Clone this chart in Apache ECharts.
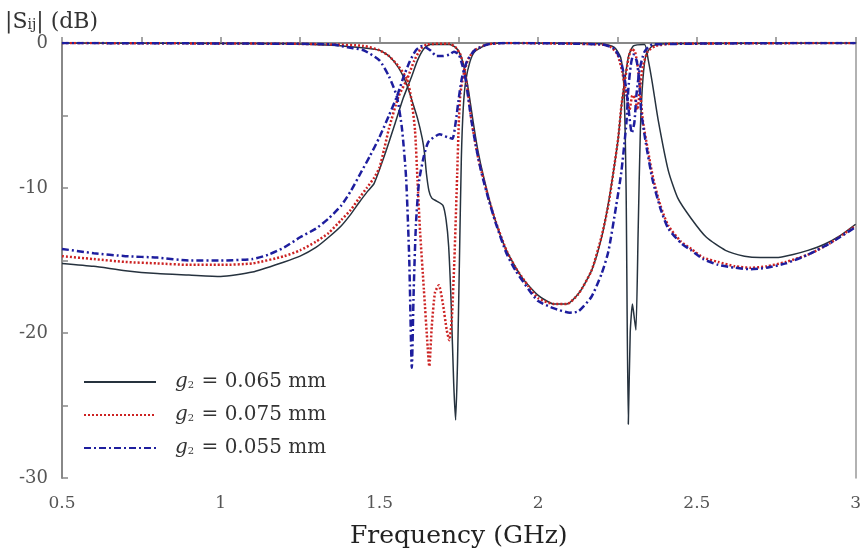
<!DOCTYPE html>
<html>
<head>
<meta charset="utf-8">
<script src="https://cdn.jsdelivr.net/npm/echarts@6/dist/echarts.min.js"></script>
<style>
  html, body { margin: 0; padding: 0; background: #fff; }
  #chart { width: 864px; height: 554px; }
</style>
</head>
<body>
<div id="chart"></div>
<script>
// legend labels (gap width g2)
var gapLabels = ['0.065', '0.075', '0.055'];
var lineColors = ['#26323e', '#cc2222', '#1e1e9e'];

// g2 = 0.065 mm  [GHz, dB]
var blackS21 = [
  [0.5,-15.2],[0.6,-15.4],[0.7,-15.7],[0.8,-15.9],[0.9,-16.0],[1.0,-16.1],[1.1,-15.8],
  [1.2,-15.1],[1.25,-14.7],[1.3,-14.1],[1.34,-13.4],[1.38,-12.6],[1.41,-11.8],[1.436,-11.0],
  [1.46,-10.3],[1.483,-9.7],[1.52,-7.5],[1.55,-5.5],[1.575,-3.8],[1.6,-2.4],[1.62,-1.2],
  [1.64,-0.4],[1.66,-0.1],[1.72,-0.1],[1.74,-0.3],[1.755,-0.8],[1.768,-1.8],[1.78,-3.2],
  [1.795,-5.4],[1.81,-7.4],[1.83,-9.4],[1.86,-11.9],[1.9,-14.3],[1.95,-16.2],[2.0,-17.4],
  [2.05,-18.0],[2.09,-18.0],[2.13,-17.2],[2.17,-15.6],[2.2,-13.4],[2.22,-11.2],[2.237,-8.9],
  [2.252,-6.6],[2.262,-4.4],[2.274,-2.4],[2.285,-0.9],[2.3,-0.2],[2.335,-0.1],[2.347,-1.2],
  [2.36,-2.8],[2.378,-5.3],[2.41,-8.8],[2.44,-10.7],[2.482,-12.1],[2.53,-13.4],[2.59,-14.3],
  [2.65,-14.7],[2.7,-14.8],[2.75,-14.8],[2.8,-14.6],[2.85,-14.3],[2.9,-13.9],[2.95,-13.3],[3.0,-12.5]
];
var blackS11 = [
  [0.5,0],[1.2,-0.05],[1.35,-0.15],[1.43,-0.3],[1.5,-0.5],[1.53,-0.9],[1.56,-1.7],[1.585,-2.8],
  [1.6,-3.8],[1.62,-5.2],[1.635,-6.6],[1.642,-7.6],[1.648,-9.0],[1.656,-10.2],[1.665,-10.7],
  [1.68,-10.9],[1.7,-11.2],[1.71,-12.2],[1.718,-14.0],[1.726,-18.0],[1.734,-23.5],[1.74,-26.0],
  [1.746,-22.0],[1.752,-15.0],[1.758,-8.0],[1.764,-4.5],[1.772,-2.6],[1.785,-1.3],[1.8,-0.6],
  [1.84,-0.1],[1.9,0],[2.2,-0.05],[2.24,-0.3],[2.26,-1.0],[2.27,-3.0],[2.277,-10.0],
  [2.284,-26.3],[2.29,-20.0],[2.297,-18.0],[2.302,-18.8],[2.308,-19.8],[2.315,-13.0],
  [2.322,-6.0],[2.33,-2.5],[2.34,-0.8],[2.36,-0.2],[2.4,-0.05],[3.0,0]
];

// g2 = 0.075 mm
var redS21 = [
  [0.5,-14.7],[0.6,-14.9],[0.7,-15.1],[0.8,-15.2],[0.9,-15.3],[1.0,-15.3],[1.1,-15.2],
  [1.2,-14.7],[1.25,-14.3],[1.3,-13.7],[1.34,-13.1],[1.38,-12.2],[1.41,-11.5],[1.436,-10.7],
  [1.46,-10.0],[1.483,-9.3],[1.5,-8.6],[1.515,-7.3],[1.53,-5.9],[1.56,-3.7],[1.587,-2.5],
  [1.61,-1.2],[1.63,-0.4],[1.65,-0.1],[1.72,-0.05],[1.74,-0.3],[1.755,-0.8],[1.765,-1.6],
  [1.775,-2.8],[1.791,-5.5],[1.81,-7.8],[1.822,-8.9],[1.844,-10.7],[1.866,-12.3],[1.9,-14.3],
  [1.929,-15.5],[1.97,-16.8],[2.0,-17.6],[2.05,-18.0],[2.09,-18.0],[2.127,-17.3],[2.168,-15.7],
  [2.199,-13.4],[2.221,-11.2],[2.237,-8.9],[2.252,-6.6],[2.262,-4.4],[2.274,-2.5],[2.285,-1.0],
  [2.295,-0.4],[2.305,-0.6],[2.315,-1.8],[2.322,-3.5],[2.33,-5.4],[2.345,-7.3],[2.362,-9.3],
  [2.385,-11.2],[2.41,-12.6],[2.45,-13.7],[2.482,-14.2],[2.52,-14.8],[2.567,-15.1],
  [2.62,-15.4],[2.67,-15.5],[2.72,-15.4],[2.78,-15.1],[2.85,-14.6],[2.92,-13.8],[3.0,-12.6]
];
var redS11 = [
  [0.5,0],[1.2,-0.05],[1.35,-0.1],[1.45,-0.2],[1.5,-0.5],[1.53,-0.9],[1.56,-1.6],[1.587,-2.5],
  [1.6,-3.8],[1.612,-6.0],[1.62,-9.5],[1.628,-13.0],[1.64,-17.0],[1.652,-21.0],[1.657,-22.3],
  [1.665,-19.5],[1.675,-17.2],[1.687,-16.7],[1.7,-18.0],[1.712,-19.8],[1.72,-20.5],
  [1.728,-19.0],[1.736,-15.0],[1.745,-9.0],[1.75,-5.5],[1.755,-3.5],[1.765,-2.2],[1.78,-1.1],
  [1.8,-0.5],[1.84,-0.1],[1.9,0],[2.2,-0.1],[2.23,-0.3],[2.25,-0.8],[2.265,-2.0],[2.278,-3.6],
  [2.288,-4.6],[2.297,-3.6],[2.305,-3.8],[2.313,-4.6],[2.32,-3.3],[2.33,-1.6],[2.345,-0.6],
  [2.37,-0.2],[2.42,-0.05],[3.0,0]
];

// g2 = 0.055 mm
var blueS21 = [
  [0.5,-14.2],[0.6,-14.5],[0.7,-14.7],[0.8,-14.8],[0.9,-15.0],[1.0,-15.0],[1.1,-14.9],
  [1.15,-14.6],[1.2,-14.1],[1.25,-13.4],[1.3,-12.8],[1.34,-12.1],[1.38,-11.2],[1.41,-10.2],
  [1.44,-9.0],[1.47,-7.8],[1.5,-6.5],[1.53,-5.0],[1.555,-3.7],[1.575,-2.4],[1.595,-1.3],
  [1.615,-0.5],[1.635,-0.2],[1.66,-0.5],[1.68,-0.9],[1.7,-0.9],[1.72,-0.8],[1.735,-0.6],
  [1.75,-0.8],[1.762,-1.6],[1.772,-2.6],[1.791,-5.5],[1.81,-7.8],[1.822,-9.0],[1.844,-10.8],
  [1.866,-12.4],[1.9,-14.5],[1.929,-15.7],[1.97,-17.0],[2.0,-17.8],[2.05,-18.3],[2.1,-18.6],
  [2.127,-18.5],[2.168,-17.5],[2.2,-15.9],[2.221,-14.4],[2.246,-11.2],[2.262,-8.9],
  [2.278,-5.5],[2.284,-3.2],[2.292,-1.5],[2.3,-0.8],[2.31,-1.2],[2.318,-2.5],[2.325,-4.8],
  [2.34,-7.0],[2.36,-9.4],[2.385,-11.4],[2.41,-12.8],[2.45,-13.8],[2.482,-14.3],[2.52,-14.9],
  [2.567,-15.3],[2.62,-15.5],[2.67,-15.6],[2.72,-15.5],[2.78,-15.2],[2.85,-14.6],[2.92,-13.8],[3.0,-12.7]
];
var blueS11 = [
  [0.5,0],[1.2,-0.05],[1.35,-0.1],[1.4,-0.3],[1.45,-0.5],[1.5,-1.2],[1.53,-2.3],[1.555,-3.7],
  [1.571,-5.9],[1.584,-9.3],[1.594,-15.0],[1.602,-22.4],[1.608,-17.0],[1.615,-12.5],
  [1.625,-9.5],[1.64,-7.8],[1.655,-6.8],[1.69,-6.3],[1.715,-6.5],[1.73,-6.6],[1.74,-5.5],
  [1.75,-3.8],[1.76,-2.4],[1.775,-1.3],[1.8,-0.5],[1.84,-0.1],[1.9,0],[2.2,-0.1],[2.24,-0.4],
  [2.26,-1.2],[2.275,-2.8],[2.285,-4.6],[2.295,-6.2],[2.303,-5.5],[2.31,-3.5],[2.32,-1.8],
  [2.335,-0.6],[2.36,-0.1],[3.0,0]
];

var curves = [
  [blackS21, blackS11],
  [redS21, redS11],
  [blueS21, blueS11]
];
var lineTypes = ['solid', [2, 2], [7, 3, 2, 3]];
var lineWidths = [1.5, 2.5, 2.5];

var serif = '"DejaVu Serif", "Liberation Serif", serif';

var seriesList = [];
curves.forEach(function (pair, i) {
  pair.forEach(function (d) {
    seriesList.push({
      name: 'g2 = ' + gapLabels[i] + ' mm',
      type: 'line',
      data: d,
      showSymbol: false,
      symbol: 'none',
      smooth: 0.2,
      lineStyle: { color: lineColors[i], width: lineWidths[i], type: lineTypes[i] },
      itemStyle: { color: lineColors[i] }
    });
  });
});

var chart = echarts.init(document.getElementById('chart'));
var option = {
  backgroundColor: '#fff',
  animation: false,
  grid: { left: 62, right: 6, top: 43, bottom: 71 },
  legend: {
    orient: 'vertical',
    left: 78,
    top: 367,
    itemWidth: 72,
    itemHeight: 14,
    itemGap: 13,
    itemStyle: { opacity: 0 },
    data: gapLabels.map(function (g) { return 'g2 = ' + g + ' mm'; }),
    formatter: function (name) {
      var v = name.replace('g2 = ', '');
      return '{i|g}{s|2}{t| = ' + v + '}';
    },
    textStyle: {
      fontFamily: serif,
      fontSize: 20,
      color: '#333',
      rich: {
        i: { fontFamily: serif, fontSize: 20, fontStyle: 'italic', color: '#333', padding: [0, 0, 0, 14] },
        s: { fontFamily: serif, fontSize: 10, color: '#333', padding: [7, 1, 0, 0] },
        t: { fontFamily: serif, fontSize: 20, color: '#333' }
      }
    }
  },
  xAxis: [{
    type: 'value',
    min: 0.5,
    max: 3,
    interval: 0.5,
    name: 'Frequency (GHz)',
    nameLocation: 'middle',
    nameGap: 46,
    nameTextStyle: { fontFamily: serif, fontSize: 25, color: '#222' },
    axisLine: { show: true, lineStyle: { color: '#888', width: 2 } },
    axisTick: { show: true, inside: true, length: 6, lineStyle: { color: '#888', width: 1.5 } },
    minorTick: { show: true, splitNumber: 2, length: 6, lineStyle: { color: '#888', width: 1.5 } },
    splitLine: { show: false },
    axisLabel: { fontFamily: serif, fontSize: 17, color: '#555', margin: 17 }
  }, {
    type: 'value',
    position: 'top',
    min: 0.5,
    max: 3,
    axisLine: { show: true, lineStyle: { color: '#888', width: 2 } },
    axisTick: { show: false },
    axisLabel: { show: false },
    splitLine: { show: false }
  }],
  yAxis: [{
    type: 'value',
    min: -30,
    max: 0,
    interval: 10,
    name: '{a||S}{b|ij}{a|| (dB)}',
    nameLocation: 'end',
    nameGap: 10,
    nameTextStyle: {
      align: 'left',
      padding: [0, 0, 0, -57],
      rich: {
        a: { fontFamily: serif, fontSize: 22, color: '#333' },
        b: { fontFamily: serif, fontSize: 14, color: '#333', padding: [6, 0, 0, 0] }
      }
    },
    axisLine: { show: true, lineStyle: { color: '#888', width: 2 } },
    axisTick: { show: true, inside: true, length: 6, lineStyle: { color: '#888', width: 1.5 } },
    minorTick: { show: true, splitNumber: 2, length: 6, lineStyle: { color: '#888', width: 1.5 } },
    splitLine: { show: false },
    axisLabel: { fontFamily: serif, fontSize: 18, color: '#555', margin: 14 }
  }, {
    type: 'value',
    position: 'right',
    min: -30,
    max: 0,
    axisLine: { show: true, lineStyle: { color: '#999', width: 1.5 } },
    axisTick: { show: false },
    axisLabel: { show: false },
    splitLine: { show: false }
  }],
  series: seriesList
};
chart.setOption(option);
</script>
</body>
</html>
